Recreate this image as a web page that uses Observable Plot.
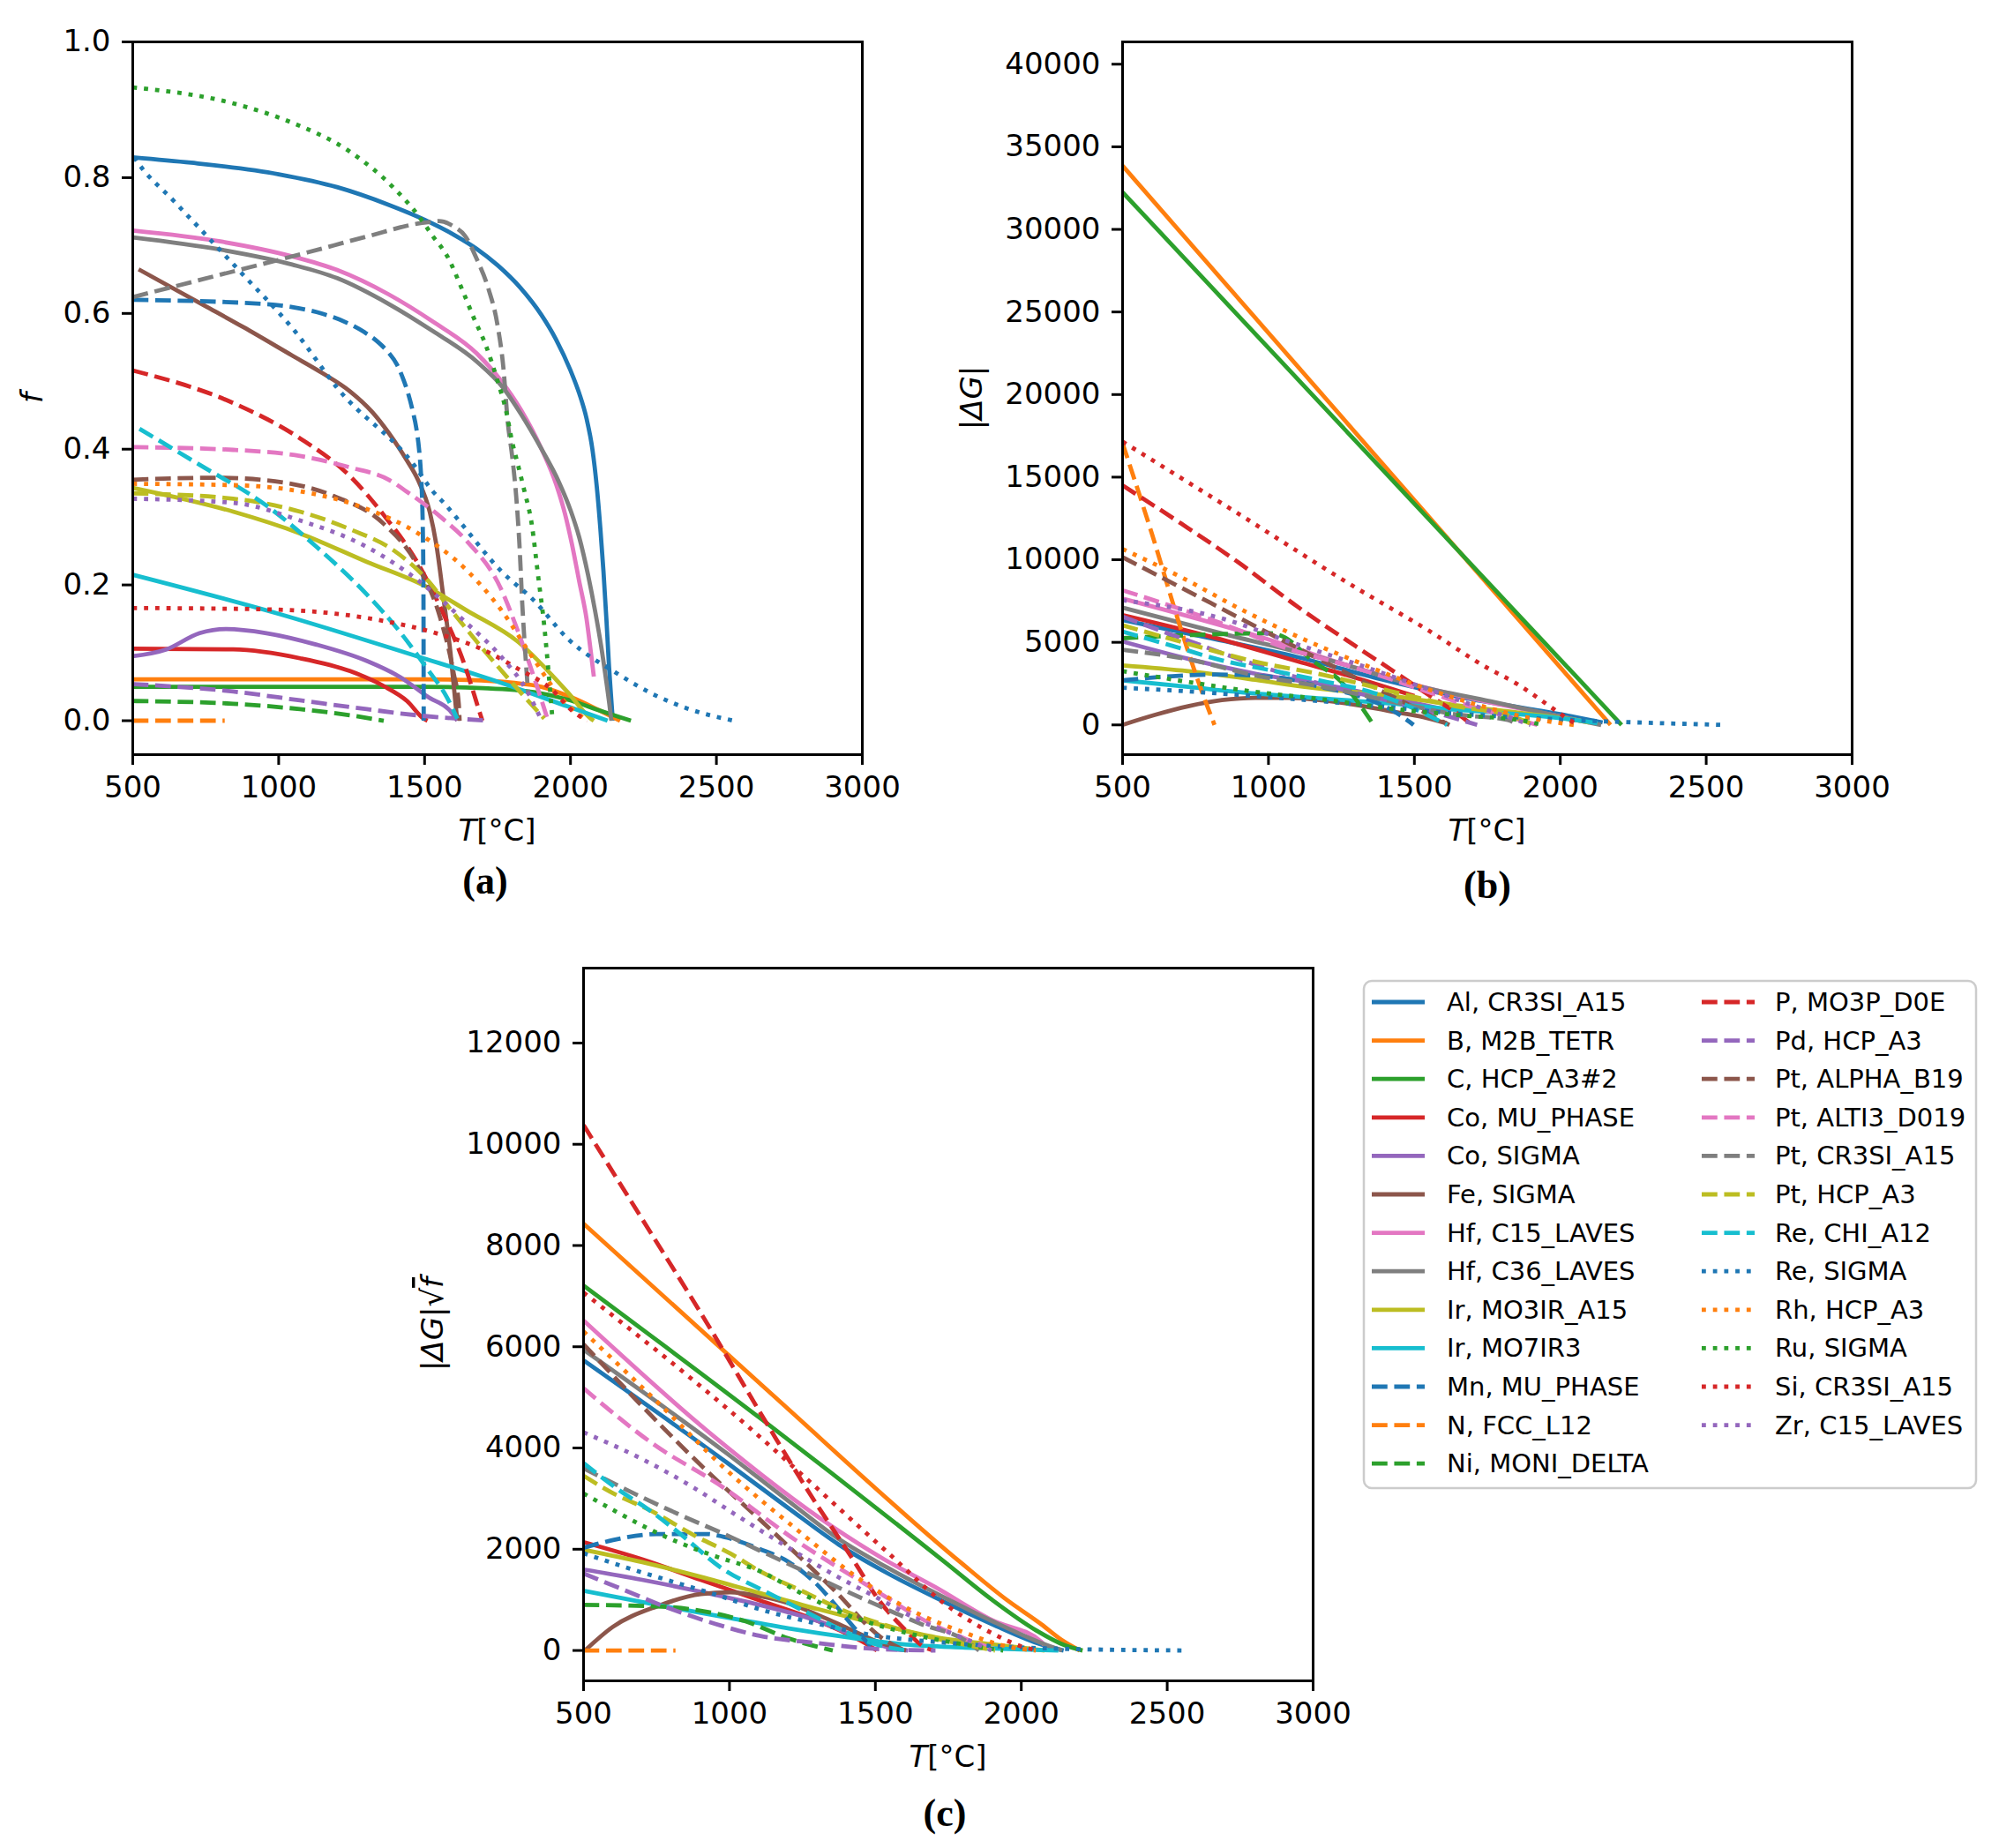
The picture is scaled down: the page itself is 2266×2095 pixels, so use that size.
<!DOCTYPE html>
<html><head><meta charset="utf-8">
<script src="https://cdn.jsdelivr.net/npm/d3@7"></script>
<script src="https://cdn.jsdelivr.net/npm/@observablehq/plot@0.6"></script>
<style>
body{margin:0;background:#fff;}
#fig{position:relative;width:2266px;height:2095px;font-family:"DejaVu Sans",sans-serif;color:#000;background:#fff;}
.panel{position:absolute;}
.cap{position:absolute;transform:translate(-50%,-50%);font-family:"Liberation Serif",serif;font-weight:bold;font-size:44px;white-space:nowrap;}
</style></head><body><div id="fig"></div>
<script>
// ---------- data ----------
const seriesLabels = ["Al, CR3SI_A15","B, M2B_TETR","C, HCP_A3#2","Co, MU_PHASE","Co, SIGMA","Fe, SIGMA","Hf, C15_LAVES","Hf, C36_LAVES","Ir, MO3IR_A15","Ir, MO7IR3","Mn, MU_PHASE","N, FCC_L12","Ni, MONI_DELTA","P, MO3P_D0E","Pd, HCP_A3","Pt, ALPHA_B19","Pt, ALTI3_D019","Pt, CR3SI_A15","Pt, HCP_A3","Re, CHI_A12","Re, SIGMA","Rh, HCP_A3","Ru, SIGMA","Si, CR3SI_A15","Zr, C15_LAVES"];
const seriesColors = ["#1f77b4","#ff7f0e","#2ca02c","#d62728","#9467bd","#8c564b","#e377c2","#7f7f7f","#bcbd22","#17becf","#1f77b4","#ff7f0e","#2ca02c","#d62728","#9467bd","#8c564b","#e377c2","#7f7f7f","#bcbd22","#17becf","#1f77b4","#ff7f0e","#2ca02c","#d62728","#9467bd"];
const seriesDash = ["solid","solid","solid","solid","solid","solid","solid","solid","solid","solid","dashed","dashed","dashed","dashed","dashed","dashed","dashed","dashed","dashed","dashed","dotted","dotted","dotted","dotted","dotted"];

const xTicks = [500,1000,1500,2000,2500,3000];
const fTicks = [0,0.2,0.4,0.6,0.8,1.0];
const dGTicks = [0,5000,10000,15000,20000,25000,30000,35000,40000];
const dGsqrtfTicks = [0,2000,4000,6000,8000,10000,12000];

// panel (a): f vs T
const fCurves = [
 [[500,.830],[700,.822],[1000,.805],[1200,.786],[1377,.760],[1500,.738],[1600,.716],[1679,.695],[1750,.671],[1830,.637],[1900,.598],[1950,.562],[2000,.516],[2030,.482],[2055,.445],[2075,.400],[2090,.345],[2102,.285],[2113,.22],[2123,.15],[2132,.08],[2140,.03],[2145,0]],
 [[500,.061],[1000,.061],[1500,.061],[1650,.060],[1800,.056],[1900,.050],[2000,.035],[2100,.015],[2170,0]],
 [[500,.050],[1000,.050],[1500,.050],[1700,.048],[1875,.042],[2000,.030],[2100,.015],[2207,0]],
 [[500,.106],[844,.105],[1073,.092],[1245,.073],[1360,.051],[1440,.029],[1497,.003],[1510,0]],
 [[500,.095],[615,.105],[729,.129],[821,.135],[958,.129],[1130,.112],[1302,.088],[1417,.064],[1508,.036],[1600,.008],[1612,0]],
 [[520,.665],[748,.611],[878,.580],[1046,.538],[1150,.512],[1245,.485],[1320,.455],[1377,.424],[1437,.385],[1477,.355],[1518,.307],[1540,.26],[1566,.177],[1589,.099],[1606,.025],[1612,0]],
 [[500,.722],[800,.706],[1046,.684],[1200,.664],[1377,.628],[1528,.588],[1679,.541],[1760,.502],[1830,.458],[1901,.400],[1951,.348],[1981,.305],[2005,.26],[2030,.205],[2055,.15],[2070,.10],[2080,.065]],
 [[500,.712],[800,.694],[1046,.672],[1200,.652],[1377,.614],[1528,.574],[1679,.529],[1770,.490],[1830,.452],[1901,.400],[1961,.351],[2001,.309],[2030,.27],[2060,.215],[2085,.16],[2105,.11],[2122,.06],[2133,.025],[2140,0]],
 [[500,.343],[844,.308],[1073,.276],[1302,.234],[1508,.197],[1646,.162],[1818,.117],[1990,.042],[2070,.003],[2080,0]],
 [[500,.215],[1004,.157],[1474,.095],[1761,.056],[1990,.021],[2127,0]],
 [[500,.620],[947,.614],[1050,.609],[1146,.600],[1230,.587],[1295,.572],[1340,.558],[1377,.542],[1405,.525],[1427,.503],[1445,.480],[1460,.455],[1472,.430],[1481,.400],[1487,.368],[1491,.333],[1494,.28],[1496,.20],[1497,0]],
 [[500,0],[815,0]],
 [[500,.029],[844,.025],[1073,.017],[1245,.008],[1360,0]],
 [[500,.516],[844,.468],[1073,.416],[1245,.360],[1360,.303],[1474,.234],[1566,.156],[1634,.086],[1692,.008],[1698,0]],
 [[500,.054],[844,.043],[1073,.030],[1302,.017],[1474,.008],[1646,.002],[1715,0]],
 [[500,.355],[787,.358],[1016,.351],[1188,.331],[1360,.290],[1474,.230],[1554,.151],[1600,.069],[1617,.025],[1620,0]],
 [[500,.403],[844,.399],[1073,.390],[1245,.373],[1377,.355],[1437,.338],[1558,.299],[1646,.264],[1761,.195],[1818,.134],[1875,.064],[1921,.003]],
 [[500,.624],[800,.657],[1100,.69],[1300,.713],[1487,.733],[1550,.736],[1600,.728],[1639,.714],[1679,.680],[1719,.636],[1749,.585],[1770,.520],[1785,.440],[1800,.390],[1815,.325],[1825,.26],[1835,.17],[1845,.10],[1855,.04]],
 [[500,.335],[844,.327],[1073,.308],[1245,.282],[1394,.251],[1508,.208],[1589,.164],[1703,.104],[1818,.047],[1910,.003]],
 [[523,.430],[729,.377],[958,.317],[1130,.256],[1302,.186],[1417,.130],[1508,.077],[1577,.034],[1612,.003]],
 [[505,.83],[521,.82],[640,.766],[867,.662],[1057,.573],[1203,.489],[1465,.376],[1528,.338],[1568,.320],[1619,.294],[1761,.221],[1875,.177],[1990,.121],[2162,.069],[2288,.038],[2400,.018],[2560,0]],
 [[500,.349],[844,.347],[1073,.338],[1302,.312],[1474,.277],[1646,.221],[1761,.164],[1875,.090],[1967,.034],[2047,.003]],
 [[500,.933],[848,.909],[1046,.881],[1245,.838],[1394,.785],[1477,.745],[1528,.714],[1578,.684],[1628,.636],[1669,.593],[1709,.554],[1749,.502],[1780,.455],[1800,.411],[1820,.377],[1840,.342],[1867,.29],[1890,.21],[1910,.14],[1925,.07],[1938,.003]],
 [[500,.166],[958,.164],[1188,.158],[1360,.147],[1531,.130],[1703,.104],[1818,.077],[1933,.047],[2013,.012],[2058,0]],
 [[500,.327],[844,.321],[1073,.295],[1302,.256],[1474,.208],[1646,.143],[1761,.095],[1852,.043],[1898,.003]]
];

// panel (b): |dG| vs T
const dGCurves = [
 [[500,6350],[800,5250],[1100,4100],[1400,2700],[1650,1700],[1900,950],[2050,480],[2145,150]],
 [[500,33850],[2172,0]],
 [[500,32250],[2210,0]],
 [[500,6650],[800,5350],[1100,3850],[1300,2850],[1500,1750]],
 [[500,5050],[725,4000],[955,3100],[1185,2450],[1415,1650],[1612,900]],
 [[500,0],[610,600],[725,1130],[840,1500],[955,1640],[1070,1640],[1185,1490],[1300,1210],[1415,840],[1530,480],[1610,100]],
 [[500,7650],[950,5450],[1300,3450],[1530,2300],[1760,1350],[1990,540],[2080,200]],
 [[500,7100],[840,5540],[1186,4030],[1532,2270],[1762,1420],[1993,530],[2140,0]],
 [[500,3600],[725,3250],[955,2730],[1130,2290],[1415,1770],[1645,1190],[1875,700],[2050,300],[2100,150]],
 [[500,2700],[725,2300],[955,1900],[1185,1600],[1415,1300],[1645,920],[1875,620],[2050,300],[2127,100]],
 [[500,2700],[670,2950],[820,3050],[955,2980],[1070,2780],[1185,2270],[1280,1900],[1370,1350],[1450,600],[1497,0]],
 [[500,17050],[600,11600],[700,5800],[760,2600],[815,0]],
 [[500,5250],[750,5450],[1000,5550],[1050,5350],[1150,3900],[1250,2600],[1360,0]],
 [[500,14500],[700,12200],[900,9800],[1100,7150],[1300,4750],[1450,3000],[1550,1800],[1650,650],[1698,0]],
 [[500,6550],[725,5100],[955,3650],[1185,2450],[1415,1450],[1600,600],[1715,0]],
 [[500,10150],[800,7400],[1100,4650],[1400,1950],[1620,0]],
 [[500,8150],[800,6400],[1070,4600],[1300,3450],[1530,2100],[1700,1080],[1820,500],[1921,0]],
 [[500,4550],[725,3970],[955,2990],[1185,2310],[1415,1440],[1645,630],[1820,300],[1855,0]],
 [[500,6030],[725,4910],[955,3830],[1185,3040],[1415,2060],[1645,1120],[1820,600],[1910,0]],
 [[500,5650],[670,4790],[840,3910],[1015,3280],[1185,2660],[1360,1940],[1475,1170],[1612,0]],
 [[500,2250],[725,2030],[955,1740],[1185,1430],[1415,1070],[1645,680],[1875,440],[2100,250],[2300,130],[2560,0]],
 [[500,10650],[700,8950],[900,7050],[1100,5350],[1300,3850],[1500,2450],[1700,1300],[1900,400],[2047,0]],
 [[500,3250],[725,2600],[955,2000],[1185,1550],[1415,1000],[1645,600],[1875,250],[1938,0]],
 [[500,17150],[900,12750],[1300,8300],[1550,5700],[1750,3450],[1850,2500],[1950,1300],[2010,550],[2058,0]],
 [[500,7550],[840,6450],[1070,5050],[1300,3700],[1530,2270],[1705,1170],[1820,490],[1898,0]]
];

// panel (c): |dG|*sqrt(f) vs T
const dGsqrtfCurves = [
 [[500,5730],[994,3700],[1200,2820],[1375,2090],[1540,1530],[1706,1045],[1900,520],[2068,120],[2145,0]],
 [[500,8430],[1134,5120],[1790,1750],[1950,1000],[2068,520],[2140,200],[2200,0]],
 [[500,7210],[1114,4550],[1737,1750],[1900,1000],[2050,400],[2150,100],[2210,0]],
 [[500,2140],[701,1800],[902,1395],[1103,990],[1304,580],[1455,175],[1505,0]],
 [[500,1600],[701,1395],[902,1160],[1103,900],[1304,580],[1455,230],[1560,40],[1612,0]],
 [[505,0],[600,465],[751,870],[902,1115],[1003,1150],[1103,1075],[1204,930],[1304,700],[1405,440],[1505,180],[1605,0]],
 [[500,6520],[932,4300],[1354,2440],[1530,1800],[1706,1250],[1900,600],[2068,175],[2080,100]],
 [[500,5940],[994,3880],[1200,2960],[1375,2200],[1540,1640],[1706,1135],[1900,580],[2068,150],[2140,0]],
 [[500,1990],[701,1745],[902,1455],[1103,1135],[1304,815],[1505,525],[1706,262],[1907,116],[2008,50],[2080,0]],
 [[500,1180],[751,900],[1003,640],[1204,436],[1405,262],[1606,116],[1807,58],[2000,20],[2127,0]],
 [[500,2030],[601,2180],[751,2300],[922,2300],[1003,2210],[1103,2005],[1204,1745],[1304,1280],[1354,960],[1425,465],[1497,0]],
 [[500,0],[815,0]],
 [[500,900],[751,870],[902,785],[1053,580],[1204,235],[1354,0]],
 [[500,10380],[700,8530],[893,6750],[1134,4425],[1264,3200],[1435,1690],[1505,1050],[1600,420],[1670,60],[1698,0]],
 [[500,1520],[641,1190],[802,815],[952,525],[1103,290],[1304,145],[1505,30],[1706,0]],
 [[500,6050],[902,3660],[1153,2325],[1354,1220],[1525,235],[1600,0]],
 [[500,5180],[741,4070],[962,3285],[1234,2150],[1515,1135],[1650,650],[1800,250],[1921,0]],
 [[500,3600],[681,3080],[832,2675],[982,2300],[1103,1975],[1254,1570],[1405,1160],[1505,900],[1656,525],[1807,200],[1855,0]],
 [[500,3450],[590,3140],[741,2730],[882,2265],[1003,1915],[1103,1570],[1254,1160],[1405,755],[1555,465],[1756,175],[1910,0]],
 [[500,3700],[621,3170],[721,2790],[832,2300],[972,1630],[1123,1165],[1264,755],[1405,350],[1505,115],[1612,0]],
 [[500,1920],[651,1630],[802,1365],[952,1105],[1103,815],[1304,525],[1505,290],[1750,150],[2000,60],[2300,15],[2560,0]],
 [[500,6300],[772,4800],[983,3600],[1244,2325],[1435,1455],[1656,700],[1807,350],[1950,80],[2050,0]],
 [[500,3100],[611,2745],[721,2410],[832,2120],[952,1860],[1103,1570],[1254,1105],[1405,700],[1606,350],[1807,115],[1938,0]],
 [[500,7070],[994,4770],[1545,1920],[1736,930],[1937,235],[2000,80],[2058,0]],
 [[500,4310],[701,3780],[882,3200],[1023,2675],[1184,2095],[1354,1510],[1505,1045],[1656,580],[1807,230],[1898,0]]
];

// ---------- drawing ----------
const LW = 4.8;
const dashArray = {solid: null, dashed: `${3.7*LW},${1.6*LW}`, dotted: `${LW},${1.65*LW}`};
const fig = document.getElementById("fig");
const FONT = "DejaVu Sans";

function panel(curves, o) {
  const W = 827, H = 808;
  const mL = o.frameLeft - o.svgLeft, mT = o.frameTop - o.svgTop, mR = 40, mB = 150;
  const marks = [];
  curves.forEach((pts, i) => {
    const opts = {x: "t", y: "v", stroke: seriesColors[i], strokeWidth: LW, curve: "monotone-x", clip: true, strokeLinecap: "butt", strokeLinejoin: "round"};
    if (dashArray[seriesDash[i]]) opts.strokeDasharray = dashArray[seriesDash[i]];
    marks.push(Plot.line(pts.map(([t, v]) => ({t, v})), opts));
  });
  marks.push(Plot.axisX({ticks: xTicks, tickSize: 12, tickPadding: 12, strokeWidth: 3, fontSize: 34, label: null, tickFormat: d => String(d)}));
  marks.push(Plot.axisY({ticks: o.yTicks, tickSize: 12, tickPadding: 13, strokeWidth: 3, fontSize: 34, label: null, tickFormat: o.yFormat}));
  marks.push(Plot.frame({stroke: "#000", strokeWidth: 3}));
  const svg = Plot.plot({
    width: W + mL + mR, height: H + mT + mB,
    marginLeft: mL, marginTop: mT, marginRight: mR, marginBottom: mB,
    x: {domain: [500, 3000]},
    y: {domain: o.yDomain},
    style: {fontFamily: FONT, fontSize: "34px", background: "transparent", overflow: "visible", color: "#000"},
    marks
  });
  svg.classList.add("panel");
  svg.style.left = o.svgLeft + "px";
  svg.style.top = o.svgTop + "px";
  svg.style.maxWidth = "none";
  fig.appendChild(svg);
  const s = d3.select(svg);
  const xl = s.append("text").attr("x", mL + W / 2).attr("y", mT + H + 86)
    .attr("text-anchor", "middle").attr("dominant-baseline", "central")
    .attr("font-family", FONT).attr("font-size", 34).attr("fill", "#000");
  xl.append("tspan").attr("font-style", "italic").text("T");
  xl.append("tspan").text("[°C]");
  const yl = s.append("text")
    .attr("transform", `translate(${o.yLabelX - o.svgLeft},${mT + H / 2}) rotate(-90)`)
    .attr("text-anchor", "middle").attr("dominant-baseline", "central")
    .attr("font-family", FONT).attr("font-size", 34).attr("fill", "#000");
  o.yLabel(yl);
  return svg;
}

panel(fCurves, {svgLeft: 0, svgTop: 0, frameLeft: 150, frameTop: 47,
  yDomain: [-0.05, 1.0], yTicks: fTicks, yFormat: d3.format(".1f"), yLabelX: 36,
  yLabel: t => t.append("tspan").attr("font-style", "italic").text("f")});

panel(dGCurves, {svgLeft: 1060, svgTop: 0, frameLeft: 1272, frameTop: 47,
  yDomain: [-1800, 41350], yTicks: dGTicks, yFormat: d => String(d), yLabelX: 1101,
  yLabel: t => { t.append("tspan").text("|"); t.append("tspan").attr("font-style", "italic").text("ΔG"); t.append("tspan").text("|"); }});

panel(dGsqrtfCurves, {svgLeft: 440, svgTop: 1040, frameLeft: 661, frameTop: 1097,
  yDomain: [-600, 13480], yTicks: dGsqrtfTicks, yFormat: d => String(d), yLabelX: 490,
  yLabel: t => { t.append("tspan").text("|"); t.append("tspan").attr("font-style", "italic").text("ΔG"); t.append("tspan").text("|√");
    t.append("tspan").attr("font-style", "italic").style("text-decoration", "overline").text("f"); }});

[["(a)", 550, 998], ["(b)", 1686, 1003], ["(c)", 1071, 2055]].forEach(([txt, x, y]) => {
  const d = document.createElement("div");
  d.className = "cap"; d.textContent = txt;
  d.style.left = x + "px"; d.style.top = y + "px";
  fig.appendChild(d);
});

// legend
const lg = d3.select(fig).append("svg")
  .style("position", "absolute").style("left", "1544px").style("top", "1110px")
  .attr("width", 700).attr("height", 580);
lg.append("rect").attr("x", 2).attr("y", 2).attr("width", 694).attr("height", 575).attr("rx", 9)
  .attr("fill", "#fff").attr("fill-opacity", 0.8).attr("stroke", "#cccccc").attr("stroke-width", 2.5);
seriesLabels.forEach((lab, i) => {
  const col = i < 13 ? 0 : 1, row = i < 13 ? i : i - 13;
  const y = 26 + row * 43.6;
  const hx = col === 0 ? 11 : 385, tx = col === 0 ? 96 : 468;
  const ln = lg.append("line").attr("x1", hx).attr("x2", hx + 60).attr("y1", y).attr("y2", y)
    .attr("stroke", seriesColors[i]).attr("stroke-width", LW);
  if (dashArray[seriesDash[i]]) ln.attr("stroke-dasharray", dashArray[seriesDash[i]]);
  lg.append("text").attr("x", tx).attr("y", y).attr("dominant-baseline", "central")
    .attr("font-family", FONT).attr("font-size", 29).attr("fill", "#000").text(lab);
});
</script></body></html>
